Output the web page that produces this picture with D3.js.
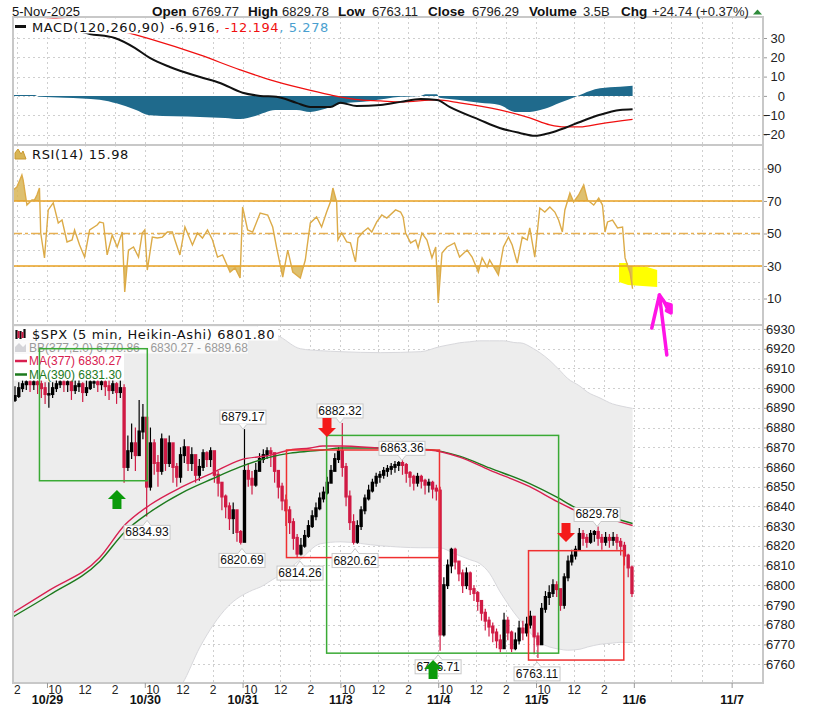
<!DOCTYPE html>
<html><head><meta charset="utf-8">
<script src="https://cdn.jsdelivr.net/npm/d3@7"></script>
<style>
body{margin:0;background:#fff;}
svg{display:block;font-family:Arial,"Liberation Sans",sans-serif;}
</style></head><body>
<svg id="chart" width="821" height="707"></svg>
<script>
// ---------- data (x positions are 5-min bar numbers, bar 0 = 10/29 9:30) ----------
var dayLabels = ["10/29","10/30","10/31","11/3","11/4","11/5","11/6","11/7"];
var hourLabels = ["10","12","2"];
var hourBars = [6,30,54];

var header = [["Open","6769.77"],["High","6829.78"],["Low","6763.11"],["Close","6796.29"],["Volume","3.5B"],["Chg","+24.74 (+0.37%)"]];
var headerX = [152,248,338,428,529,621];
var headerValX = [192,282,372,472,583,652];

// heikin-ashi candles, 15 min buckets: close / high / low
var open1028 = 6894;
var c1028 = [6896,6900,6902,6903,6902,6903,6902,6900,6897];
var h1028 = [6901,6903,6904,6905,6905,6905,6905,6904,6903];
var l1028 = [6893,6895,6898,6899,6898,6899,6897,6895,6892];
var c1029 = [6897,6900,6902,6903,6902,6903,6899,6901,6902,6898,6900,6903,6903,6902,6903,6901,6899,6902,6898,6900,6860,6868,6872,6866,6878,6885];
var h1029 = [6903,6903,6905,6905,6905,6905,6904,6904,6905,6903,6904,6905,6905,6905,6905,6905,6904,6905,6903,6904,6902,6876,6882,6880,6894,6892];
var l1029 = [6890,6895,6898,6900,6898,6898,6894,6897,6898,6893,6896,6899,6900,6898,6899,6896,6894,6897,6892,6895,6852,6858,6864,6858,6866,6874];
var c1030 = [6850,6872,6862,6858,6874,6862,6872,6860,6855,6866,6870,6862,6866,6856,6860,6867,6864,6868,6856,6852,6845,6840,6834,6838,6827,6822];
var h1030 = [6880,6880,6874,6866,6877,6874,6876,6872,6862,6870,6874,6870,6870,6866,6864,6869,6868,6870,6866,6858,6852,6846,6842,6842,6838,6828];
var l1030 = [6834.9,6848,6856,6850,6856,6858,6860,6852,6850,6852,6862,6858,6858,6852,6853,6858,6860,6860,6852,6845,6838,6834,6828,6826,6822,6820.7];
var c1031 = [6858,6854,6851,6858,6864,6866,6868,6867,6858,6850,6843,6838,6832,6824,6816,6820,6825,6830,6835,6839,6844,6847,6852,6858,6864,6868];
var h1031 = [6879.2,6862,6858,6862,6867,6869,6870,6870,6866,6858,6852,6846,6840,6834,6826,6824,6828,6833,6838,6842,6847,6850,6855,6861,6867,6870];
var l1031 = [6822,6850,6846,6850,6858,6862,6864,6860,6852,6844,6838,6830,6826,6818,6814.3,6815,6819,6824,6829,6833,6838,6842,6846,6852,6858,6862];
var c1103 = [6860,6845,6832,6822,6830,6838,6844,6848,6852,6855,6856,6858,6859,6860,6861,6862,6861,6857,6855,6852,6855,6853,6851,6852,6849,6848];
var h1103 = [6882.3,6862,6848,6836,6833,6840,6846,6851,6854,6857,6858,6860,6861,6862,6863,6863,6863.4,6862,6858,6856,6857,6856,6854,6854,6853,6851];
var l1103 = [6855,6840,6828,6820.6,6821,6828,6836,6843,6847,6850,6852,6854,6855,6856,6857,6858,6856,6852,6850,6848,6850,6849,6846,6847,6844,6843];
var c1104 = [6775,6800,6810,6818,6812,6806,6800,6806,6798,6796,6792,6786,6782,6779,6776,6772,6768,6782,6776,6768,6772,6778,6776,6780,6784,6774];
var h1104 = [6850,6804,6813,6819,6819,6812,6808,6809,6807,6800,6797,6792,6788,6784,6781,6778,6775,6786,6784,6777,6776,6782,6782,6784,6787,6784];
var l1104 = [6766.7,6774,6798,6806,6808,6802,6796,6798,6795,6792,6787,6782,6777,6774,6771,6768,6766,6768,6772,6766,6767,6770,6772,6774,6778,6765];
var c1105 = [6770,6788,6794,6796,6800,6798,6790,6804,6812,6815,6818,6826,6824,6822,6826,6827,6824,6822,6824,6823,6824,6822,6820,6815,6809,6796];
var h1105 = [6776,6791,6797,6800,6803,6802,6796,6806,6815,6818,6820,6829,6828,6826,6828,6828,6829.8,6826,6827,6826,6827,6826,6824,6822,6816,6810];
var l1105 = [6763.1,6772,6786,6790,6794,6794,6787,6788,6802,6810,6813,6818,6820,6819,6821,6822,6820,6818,6820,6819,6820,6818,6815,6810,6804,6794];
var sessionStarts = [-27,0,78,156,234,312,390];

// Bollinger band (377,2)
var bbBars = [-27,42,108,122,144,164,170,183,186,202,218,234,266,298,313,325,329,337,345,353,361,364,375,377,388,393,401,409,415,425,431,441,451,457,467];
var bbUp   = [6962,6956,6948,6945,6940,6934,6930,6927,6926,6920,6919,6918.5,6918,6918.5,6921,6922.5,6923,6923.5,6924,6924,6924,6924,6923,6923,6920,6918,6914,6909,6905,6901,6898,6895,6892,6891,6889.7];
var bbLow  = [6690,6715,6750,6768.6,6789,6797.5,6799,6804,6805,6813,6821,6822,6820,6819,6819,6816,6815,6813,6811,6806,6797,6794,6784,6782.5,6774,6771,6768.6,6767.5,6767,6767.5,6768.6,6770,6770.6,6771,6770.9];

// moving averages
var maBars = [-27,2,42,62,82,108,132,154,178,194,210,220,234,266,305,329,353,385,407,421,441,467];
var ma377 = [6786,6797.5,6814,6830.5,6840.7,6850,6857,6863.5,6866,6868.6,6869.6,6870.6,6870.6,6869.6,6868.6,6865,6858.4,6850,6842.4,6838,6834.8,6830.3];
var ma390 = [6784,6795,6812,6827,6837,6847,6854,6860,6865,6867,6868,6868.6,6869.6,6869.6,6868.8,6865.5,6859.5,6851.5,6844.5,6839.5,6836,6831.3];

// MACD(120,260,90)
var macdBars = [-27,10,34,54,70,82,98,122,138,156,170,183,199,210,226,234,247,266,282,298,311,321,345,361,377,389,401,413,425,441,457,467];
var macdVals = [37,36,32.1,30,24.9,19.7,15,9.8,6.7,1.6,0,-0.5,-3.6,-5.7,-5.7,-3.6,-5.2,-4.7,-3.1,-1.6,-2.1,-5.7,-12.4,-16.6,-19.2,-20.7,-19.2,-16.6,-13.5,-9.8,-7.3,-6.9];
var sigBars = [-27,30,65,82,122,154,178,202,226,250,266,282,311,329,361,385,401,413,425,441,467];
var sigVals = [42,38,32.6,29.5,21.2,13.5,8.3,4.1,0.5,-2.1,-2.6,-3.1,-2.1,-3.6,-7.3,-11.4,-15,-16.1,-16.1,-14.5,-12.2];
var histBars = [-27,-10,-6,14,42,56,70,82,122,142,154,166,182,199,210,222,234,258,282,298,302,311,313,329,345,361,373,385,397,409,423,433,441,457,467];
var histVals = [0.5,0.5,-0.5,-1,-2,-4,-7,-10,-10.9,-11.4,-12,-10.4,-7.3,-7.3,-8.3,-6.7,-4.1,-2.6,-0.5,0,0.8,0.8,-1,-2.1,-3.6,-4.7,-8.3,-8.3,-6.7,-3.6,0,2.6,3.9,4.7,5.3];

// RSI(14)
var rsiBars = [-27,-24,-20,-19,-16,-12,-10,-8,-6,-5,-2,1,5,9,12,16,20,22,26,30,34,40,42,45,48,52,56,60,62,65,69,73,76,78,80,84,88,92,96,100,102,106,110,116,120,124,128,132,136,140,146,150,154,156,160,164,170,176,180,183,188,192,196,202,206,210,215,219,223,226,228,231,232,235,239,242,246,248,252,256,259,263,267,271,278,282,284,286,290,294,296,299,303,307,310,312,315,319,325,329,335,339,344,347,351,353,360,364,368,371,375,379,383,385,389,393,397,401,405,408,411,413,417,420,424,428,431,433,436,440,443,445,447,451,455,459,461,465,467];
var rsiVals = [76.8,78.6,86,82.9,67.5,70.6,70.6,73.7,78,50.3,35,64.5,68.8,56.5,58.3,44.8,46,52.2,42.9,35.5,52.2,55.2,57.1,56.5,36.8,49.1,41.7,50.9,14,39.8,41.7,35.5,50.3,52.2,27.5,47.8,47.2,47.8,50.9,50.9,46,36.8,54,42.9,50.3,47.2,52.2,46,35.5,36.8,26.3,28.8,22.6,66.3,52.2,50.9,62.6,61.4,54,41.7,23.2,39.8,26.3,22.6,33.7,56.5,60.2,54,63.2,69.4,78,69.4,46,50.3,44.8,44.2,32.5,47.2,50.9,53.4,50.9,57.1,61.4,59.5,64.5,63.2,60.2,50.3,44.2,46,41.1,50.3,46,35,41.7,7.2,38,41.7,44.2,35.5,39.8,35.5,26.3,35,29.4,33.7,24.5,41.7,47.8,42.9,31.8,47.8,46,53.4,35.5,65.7,63.2,66.3,63.2,58.3,50.9,64.5,74.9,69.4,73.7,79.8,70.6,69.4,67.5,71.8,67.5,50.9,57.1,58.3,53.4,54,35,25.7,16];

// chart notes: boxes [bar0, bar1, priceTop, priceBottom]
var greenBoxes = [[-6,80,6920,6853],[223,408,6876,6765.5]];
var redBoxes = [[191,313,6868.6,6814],[384,460,6817.5,6762]];
var greenArrows = [[55.8,6848.3],[307.9,6762]];
var redArrows = [[223.3,6875.2],[413.9,6821.9]];
var noteBars = [156.3,79.8,155.5,201.8,245.7,233.7,283.1,311.9,390.8,438.7];
var notePrices = [6879.17,6834.93,6820.69,6814.26,6820.62,6882.32,6863.36,6766.71,6763.11,6829.78];
var noteSide = ["hi","lo","lo","lo","lo","hi","hi","lo","lo","hi"];
// hand drawn marks (bar, RSI units)
var yellowMark = [[456.2,31.8],[463.4,31.8],[463.4,30],[478.6,29.4],[486.6,27.5],[486.6,17.1],[475,17.7],[463.4,18.3],[456.2,20.2]];
var pinkStem = [[494.3,-24.8],[488.4,12.2],[482.3,-8.2]];
var pinkHook = [[488.4,12.2],[492.9,7.2],[497.7,6],[497.7,1.1],[494,2.5]];

// ---------- layout ----------
var svg = d3.select("#chart");
var L = 13, R = 763;
var pMacd = [17,145], pRsi = [145,325], pPx = [325,683];

var x = d3.scaleLinear().domain([-27.1,571]).range([L,R]);
var yM = d3.scaleLinear().domain([-20,30]).range([134.5,38]);
var yR = d3.scaleLinear().domain([10,90]).range([298.5,168.5]);
var yP = d3.scaleLinear().domain([6760,6930]).range([664,329]);

var defs = svg.append("defs");
function clip(id, y0, y1){
  defs.append("clipPath").attr("id",id).append("rect").attr("x",L).attr("y",y0).attr("width",R-L).attr("height",y1-y0);
}
clip("cM",pMacd[0],pMacd[1]); clip("cR",pRsi[0],pRsi[1]); clip("cP",pPx[0],pPx[1]);
clip("cRhi",pRsi[0],yR(70)); clip("cRlo",yR(30),pRsi[1]);

// vertical grid bars
var vBars = [-24];
dayLabels.forEach(function(d,k){ vBars.push(78*k); if(k<7){ vBars.push(78*k+30); vBars.push(78*k+54);} });

function grid(panel, scale, vals){
  var g = svg.append("g");
  g.selectAll("line.h").data(vals).enter().append("line")
    .attr("x1",L).attr("x2",R).attr("y1",function(d){return Math.round(scale(d))+0.5;}).attr("y2",function(d){return Math.round(scale(d))+0.5;})
    .attr("stroke","#cfcfcf").attr("stroke-dasharray","2,3");
  g.selectAll("line.v").data(vBars).enter().append("line")
    .attr("x1",function(d){return Math.round(x(d))+0.5;}).attr("x2",function(d){return Math.round(x(d))+0.5;})
    .attr("y1",panel[0]).attr("y2",panel[1])
    .attr("stroke","#cfcfcf").attr("stroke-dasharray","2,3");
}
grid(pMacd, yM, d3.range(-20,31,10));
grid(pRsi, yR, d3.range(10,91,10));
grid(pPx, yP, d3.range(6760,6931,10));

// ---------- MACD ----------
var gM = svg.append("g").attr("clip-path","url(#cM)");
gM.append("path").datum(histBars.map(function(b,i){return [b,histVals[i]];}))
  .attr("fill","#1f6a8c")
  .attr("d", d3.area().x(function(d){return x(d[0]);}).y0(yM(0)).y1(function(d){return yM(d[1]);}).curve(d3.curveMonotoneX));
gM.append("path").datum(sigBars.map(function(b,i){return [b,sigVals[i]];}))
  .attr("fill","none").attr("stroke","#f01010").attr("stroke-width",1.3)
  .attr("d", d3.line().x(function(d){return x(d[0]);}).y(function(d){return yM(d[1]);}).curve(d3.curveMonotoneX));
gM.append("path").datum(macdBars.map(function(b,i){return [b,macdVals[i]];}))
  .attr("fill","none").attr("stroke","#111").attr("stroke-width",2)
  .attr("d", d3.line().x(function(d){return x(d[0]);}).y(function(d){return yM(d[1]);}).curve(d3.curveMonotoneX));

// ---------- RSI ----------
var rsiPts = rsiBars.map(function(b,i){return [b,rsiVals[i]];});
var gR = svg.append("g").attr("clip-path","url(#cR)");
gR.append("polygon").attr("points", yellowMark.map(function(p){return x(p[0])+","+yR(p[1]);}).join(" ")).attr("fill","#ffff00");
gR.append("path").datum(rsiPts).attr("clip-path","url(#cRhi)").attr("fill","#d8b556").attr("opacity",0.85)
  .attr("d", d3.area().x(function(d){return x(d[0]);}).y0(yR(70)).y1(function(d){return yR(d[1]);}));
gR.append("path").datum(rsiPts).attr("clip-path","url(#cRlo)").attr("fill","#d8b556").attr("opacity",0.85)
  .attr("d", d3.area().x(function(d){return x(d[0]);}).y0(yR(30)).y1(function(d){return yR(d[1]);}));
[70,30].forEach(function(v){
  gR.append("line").attr("x1",L).attr("x2",R).attr("y1",yR(v)).attr("y2",yR(v)).attr("stroke","#e8a020").attr("stroke-width",1.5);
});
gR.append("line").attr("x1",L).attr("x2",R).attr("y1",yR(50)).attr("y2",yR(50)).attr("stroke","#e8b050").attr("stroke-width",1.4).attr("stroke-dasharray","9,3,3,3");
gR.append("path").datum(rsiPts).attr("fill","none").attr("stroke","#dcab48").attr("stroke-width",1.4)
  .attr("d", d3.line().x(function(d){return x(d[0]);}).y(function(d){return yR(d[1]);}));

// ---------- price ----------
var gP = svg.append("g").attr("clip-path","url(#cP)");
var bb = bbBars.map(function(b,i){return [b,bbUp[i],bbLow[i]];});
gP.append("path").datum(bb).attr("fill","#ededed")
  .attr("d", d3.area().x(function(d){return x(d[0]);}).y0(function(d){return yP(d[2]);}).y1(function(d){return yP(d[1]);}).curve(d3.curveMonotoneX));
[1,2].forEach(function(k){
  gP.append("path").datum(bb).attr("fill","none").attr("stroke","#d8d8dc").attr("stroke-width",1)
    .attr("d", d3.line().x(function(d){return x(d[0]);}).y(function(d){return yP(d[k]);}).curve(d3.curveMonotoneX));
});

// candles
var candles = [], prev = open1028;
var allC = [c1028,c1029,c1030,c1031,c1103,c1104,c1105];
var allH = [h1028,h1029,h1030,h1031,h1103,h1104,h1105];
var allL = [l1028,l1029,l1030,l1031,l1103,l1104,l1105];
sessionStarts.forEach(function(s,si){
  allC[si].forEach(function(c,j){
    candles.push({bar:s+3*j, o:prev, c:c, h:allH[si][j], l:allL[si][j]});
    prev = c;
  });
});
var upCol = "#000", dnCol = "#d01a44";
var bw = x(3)-x(0);
function col(d){return d.c>=d.o?upCol:dnCol;}
gP.selectAll("line.wick").data(candles).enter().append("line")
  .attr("x1",function(d){return x(d.bar+1.5);}).attr("x2",function(d){return x(d.bar+1.5);})
  .attr("y1",function(d){return yP(Math.max(d.h,d.o,d.c));}).attr("y2",function(d){return yP(Math.min(d.l,d.o,d.c));})
  .attr("stroke",col).attr("stroke-width",1.2);
gP.selectAll("rect.c").data(candles).enter().append("rect")
  .attr("x",function(d){return x(d.bar)+0.2;}).attr("width",bw-0.4)
  .attr("y",function(d){return yP(Math.max(d.o,d.c))-1;})
  .attr("height",function(d){return Math.max(2.5, Math.abs(yP(d.o)-yP(d.c))+2);})
  .attr("fill",col);

var maLine = d3.line().x(function(d){return x(d[0]);}).y(function(d){return yP(d[1]);}).curve(d3.curveMonotoneX);
gP.append("path").datum(maBars.map(function(b,i){return [b,ma390[i]];})).attr("fill","none").attr("stroke","#1d7a1d").attr("stroke-width",1.4).attr("d",maLine);
gP.append("path").datum(maBars.map(function(b,i){return [b,ma377[i]];})).attr("fill","none").attr("stroke","#d82050").attr("stroke-width",1.4).attr("d",maLine);

// ---------- frame ----------
var frame = svg.append("g").attr("stroke","#c8c8c8").attr("fill","none");
frame.append("rect").attr("x",L).attr("y",pMacd[0]).attr("width",R-L).attr("height",pPx[1]-pMacd[0]).attr("stroke-width",2);
frame.append("line").attr("x1",L).attr("x2",R).attr("y1",pRsi[0]).attr("y2",pRsi[0]).attr("stroke-width",2);
frame.append("line").attr("x1",L).attr("x2",R).attr("y1",pPx[0]).attr("y2",pPx[0]).attr("stroke-width",2);

// ---------- axes ----------
function styleAxis(g, anchor, dx){
  g.select(".domain").remove();
  g.selectAll(".tick line").attr("stroke","#999");
  g.selectAll(".tick text").attr("fill","#222").attr("font-size","13px").attr("font-family","Arial, 'Liberation Sans', sans-serif")
    .attr("text-anchor",anchor).attr("x",dx);
}
var axM = svg.append("g").attr("transform","translate("+(R+1)+",0)").call(d3.axisRight(yM).tickValues(d3.range(-20,31,10)).tickSize(3));
styleAxis(axM,"end",21);
var axR = svg.append("g").attr("transform","translate("+(R+1)+",0)").call(d3.axisRight(yR).tickValues([10,30,50,70,90]).tickSize(3));
styleAxis(axR,"start",3);
var axP = svg.append("g").attr("transform","translate("+(R+1)+",0)").call(d3.axisRight(yP).tickValues(d3.range(6760,6931,10)).tickSize(3).tickFormat(d3.format("d")));
styleAxis(axP,"start",2);

var hourTicks = [[-24,"2"]];
dayLabels.slice(0,6).forEach(function(d,k){ hourBars.forEach(function(h,i){ hourTicks.push([78*k+h, hourLabels[i]]); }); });
var axH = svg.append("g").attr("transform","translate(0,"+pPx[1]+")")
  .call(d3.axisBottom(x).tickValues(hourTicks.map(function(t){return t[0];})).tickSize(0)
    .tickFormat(function(v){ var t = hourTicks.filter(function(h){return h[0]===v;})[0]; return t?t[1]:""; }));
axH.select(".domain").remove();
axH.selectAll("text").attr("y",2.5).attr("font-size","12px").attr("fill","#222").attr("font-family","Arial, 'Liberation Sans', sans-serif");
var axD = svg.append("g").attr("transform","translate(0,"+pPx[1]+")")
  .call(d3.axisBottom(x).tickValues(dayLabels.map(function(d,k){return 78*k;})).tickSize(5)
    .tickFormat(function(v){return dayLabels[v/78];}));
axD.select(".domain").remove();
axD.selectAll(".tick line").attr("stroke","#999");
axD.selectAll("text").attr("y",12).attr("font-size","12.5px").attr("font-weight","bold").attr("fill","#111").attr("font-family","Arial, 'Liberation Sans', sans-serif");

// ---------- legends ----------
var lf = "'DejaVu Sans', Verdana, sans-serif";
function bg(x0,y0,w,h,op){ svg.append("rect").attr("x",x0).attr("y",y0).attr("width",w).attr("height",h).attr("fill","#fff").attr("opacity",op||1); }
bg(14,18.5,318,15); bg(14,146.5,120,14); bg(14,326.5,264,14); bg(14,340.5,234,13,0.75); bg(14,353.5,110,13.5); bg(14,367,110,13.5);

function leg(x0,y0,parts,font,size,ls){
  var t = svg.append("text").attr("x",x0).attr("y",y0).attr("font-family",font).attr("font-size",size).attr("letter-spacing",ls||0);
  parts.forEach(function(p){ t.append("tspan").attr("fill",p[1]).text(p[0]); });
}
svg.append("line").attr("x1",15).attr("x2",26).attr("y1",26.5).attr("y2",26.5).attr("stroke","#111").attr("stroke-width",3);
leg(32,31.5,[["MACD(120,260,90) -6.916","#111"],[", -12.194","#f01010"],[", 5.278","#4a9fd0"]],lf,"13px",0.6);
svg.append("path").attr("d","M15,159 L15,153 L18,149 L21,154 L23,151 L26,159 Z").attr("fill","#d8b556").attr("stroke","#c89830");
leg(32,159,[["RSI(14) 15.98","#111"]],lf,"13px",0.6);
svg.append("path").attr("d","M16.5,330v9M20.5,331v8M24.5,329v9").attr("stroke","#111").attr("stroke-width",2.2);
svg.append("path").attr("d","M18.5,331v7M22.5,332v6").attr("stroke","#d01a44").attr("stroke-width",2);
leg(32,338.5,[["$SPX (5 min, Heikin-Ashi) 6801.80","#111"]],lf,"13px",0.6);
svg.append("path").attr("d","M15,352 L15,347 L19,343 L23,347 L26,344 L26,352 Z").attr("fill","#d4d4d8");
leg(29,351.5,[["BB(377,2.0) 6770.86 - 6830.27 - 6889.68","#9a9a9a"]],"Arial, 'Liberation Sans'","12px");
svg.append("line").attr("x1",15).attr("x2",27).attr("y1",361).attr("y2",361).attr("stroke","#d82050").attr("stroke-width",2.5);
leg(29,365,[["MA(377) 6830.27","#d82050"]],"Arial, 'Liberation Sans'","12px");
svg.append("line").attr("x1",15).attr("x2",27).attr("y1",374.5).attr("y2",374.5).attr("stroke","#1d7a1d").attr("stroke-width",2.5);
leg(29,378.5,[["MA(390) 6831.30","#1d7a1d"]],"Arial, 'Liberation Sans'","12px");

// ---------- annotations ----------
var gA = svg.append("g");
function box(b,c){
  gA.append("rect").attr("x",x(b[0])).attr("y",yP(b[2])).attr("width",x(b[1])-x(b[0])).attr("height",yP(b[3])-yP(b[2]))
    .attr("fill","none").attr("stroke",c).attr("stroke-width",1.5);
}
greenBoxes.forEach(function(b){box(b,"#3aaa35");});
redBoxes.forEach(function(b){box(b,"#f03030");});

noteBars.forEach(function(b,i){
  var ax = x(b), ay = yP(notePrices[i]), hi = noteSide[i]==="hi";
  var bx = ax-23, by = hi ? ay-19 : ay+9, bh = 14;
  var g = gA.append("g");
  var tip = hi ? [[ax-4,by+bh],[ax,by+bh+5],[ax+4,by+bh]] : [[ax-4,by],[ax,by-5],[ax+4,by]];
  g.append("rect").attr("x",bx).attr("y",by).attr("width",46).attr("height",bh).attr("fill","#fff").attr("stroke","#c8c8c8");
  g.append("polygon").attr("points",tip.map(function(p){return p.join(",");}).join(" ")).attr("fill","#fff").attr("stroke","#c8c8c8");
  g.append("line").attr("x1",ax-3.5).attr("x2",ax+3.5).attr("y1",hi?by+bh:by).attr("y2",hi?by+bh:by).attr("stroke","#fff").attr("stroke-width",1.5);
  g.append("text").attr("x",ax).attr("y",by+11).attr("text-anchor","middle").attr("font-size","12px").attr("fill","#111").text(notePrices[i].toFixed(2));
});

function arrow(a, up, c){
  var cx = x(a[0]), ty = yP(a[1]), s = up?1:-1;
  var pts = [[cx,ty],[cx+9,ty+9*s],[cx+4.5,ty+9*s],[cx+4.5,ty+19*s],[cx-4.5,ty+19*s],[cx-4.5,ty+9*s],[cx-9,ty+9*s]];
  gA.append("polygon").attr("points",pts.map(function(p){return p.join(",");}).join(" ")).attr("fill",c);
}
greenArrows.forEach(function(a){arrow(a,true,"#0a9a0a");});
redArrows.forEach(function(a){arrow(a,false,"#f41a1a");});

var pinkLine = d3.line().x(function(p){return x(p[0]);}).y(function(p){return yR(p[1]);});
gA.append("path").attr("d",pinkLine(pinkStem)).attr("fill","none").attr("stroke","#ff14e6").attr("stroke-width",3.5).attr("stroke-linecap","round").attr("stroke-linejoin","round");
gA.append("path").attr("d",pinkLine(pinkHook)).attr("fill","#ff14e6").attr("stroke","#ff14e6").attr("stroke-width",3.5).attr("stroke-linecap","round").attr("stroke-linejoin","round");

// ---------- header ----------
svg.append("text").attr("x",12).attr("y",15.5).attr("font-size","13px").attr("fill","#111").text("5-Nov-2025");
header.forEach(function(h,i){
  svg.append("text").attr("x",headerX[i]).attr("y",15.5).attr("font-size","13.5px").attr("font-weight","bold").attr("fill","#111").text(h[0]);
  svg.append("text").attr("x",headerValX[i]).attr("y",15.5).attr("font-size","13px").attr("fill","#222").text(h[1]);
});
svg.append("polygon").attr("points","753,14.5 762,14.5 757.5,9.5").attr("fill","#2e8b3a");
</script>
</body></html>
